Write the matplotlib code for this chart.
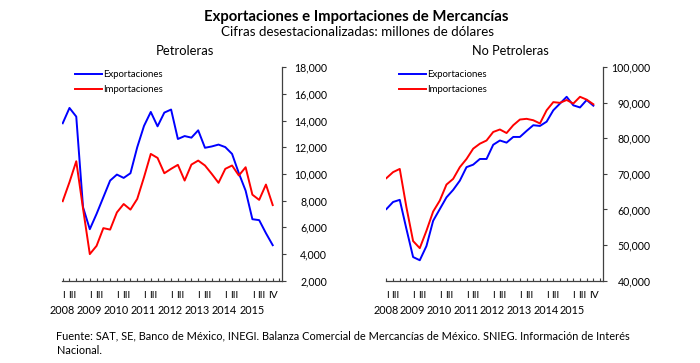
import matplotlib
matplotlib.use("Agg")
import matplotlib.pyplot as plt
from matplotlib.lines import Line2D

plt.rcParams['font.family'] = ['Lato', 'DejaVu Sans']

# ---------------- data (quarterly, 2008 Q1 - 2015 Q4, millions of USD) ----------------
years = ['2008', '2009', '2010', '2011', '2012', '2013', '2014', '2015']
quarter_marks = ['I', 'III']
last_mark = 'IV'

pet_exp = [13800, 14950, 14300, 7500, 5850, 7000, 8250, 9500,
           9950, 9700, 10050, 12000, 13600, 14650, 13570, 14600,
           14830, 12620, 12840, 12720, 13270, 11960, 12060, 12200,
           12010, 11500, 10050, 8740, 6600, 6530, 5550, 4650]
pet_imp = [7950, 9380, 10950, 7400, 3980, 4600, 5930, 5820,
           7110, 7740, 7320, 8120, 9750, 11500, 11200, 10050,
           10380, 10680, 9500, 10700, 11000, 10630, 10000, 9330,
           10380, 10630, 9880, 10500, 8440, 8050, 9200, 7660]
nop_exp = [60100, 62100, 62700, 54500, 46600, 45700, 49700, 56800,
           60100, 63400, 65500, 68100, 71900, 72600, 74200, 74200,
           78200, 79400, 78800, 80400, 80400, 82100, 83700, 83500,
           84700, 87900, 89800, 91700, 89300, 88700, 90800, 89200]
nop_imp = [68800, 70500, 71400, 60600, 51100, 49100, 54000, 59400,
           62500, 67000, 68600, 71900, 74200, 77100, 78500, 79400,
           81800, 82500, 81500, 83700, 85300, 85500, 85100, 84200,
           87900, 90200, 90000, 90800, 89800, 91700, 90900, 89600]

labels = ['Exportaciones', 'Importaciones']
colors = ['#0000FF', '#FF0000']

W, H = 700, 363
fig = plt.figure(figsize=(W / 100, H / 100), dpi=100)
fig.patch.set_facecolor('white')

TOP, BOT = 67.3, 280.5


def add_ax(x0, x1):
    return fig.add_axes([x0 / W, 1 - BOT / H, (x1 - x0) / W, (BOT - TOP) / H])


def style(ax, ylim, yticks, pad, leg_x):
    n = len(pet_exp)
    ax.set_xlim(-0.06, 32.37)
    ax.set_ylim(*ylim)
    for s in ['top', 'left']:
        ax.spines[s].set_visible(False)
    for s in ['bottom', 'right']:
        ax.spines[s].set_color('#404040')
        ax.spines[s].set_linewidth(0.9)
    ax.yaxis.tick_right()
    ax.set_yticks(yticks)
    ax.set_yticklabels([f'{v:,}' for v in yticks])
    ax.tick_params(axis='y', direction='out', length=3, width=0.8, color='#404040',
                   pad=pad, labelsize=7.6)
    for t in ax.get_yticklabels():
        t.set_horizontalalignment('right')
    ax.set_xticks(range(n + 1))
    ax.set_xticklabels([])
    ax.tick_params(axis='x', direction='in', length=2.5, width=0.8, color='#404040')
    tr = ax.get_xaxis_transform()
    y1 = -(296 - BOT) / (BOT - TOP)
    y2 = -(310.5 - BOT) / (BOT - TOP)
    for k, yr in enumerate(years):
        ax.text(4 * k + 0.1, y1, quarter_marks[0], transform=tr, ha='center', va='center', fontsize=7.4)
        ax.text(4 * k + 1.35, y1, quarter_marks[1], transform=tr, ha='center', va='center', fontsize=7.4)
        ax.text(4 * k - 0.1, y2, yr, transform=tr, ha='center', va='center', fontsize=7.8)
    ax.text(31.1, y1, last_mark, transform=tr, ha='center', va='center', fontsize=7.4)
    handles = [Line2D([], [], color=c, lw=1.4) for c in colors]
    ax.legend(handles, labels, loc='upper left', frameon=False, fontsize=6.9,
              bbox_to_anchor=(leg_x / W, 1 - 70 / H), bbox_transform=fig.transFigure,
              borderpad=0, borderaxespad=0, handlelength=2.85, handletextpad=0.12,
              labelspacing=0.62)


x = list(range(len(pet_exp)))

ax1 = add_ax(62.3, 282.0)
ax1.plot(x, pet_exp, color=colors[0], lw=1.4)
ax1.plot(x, pet_imp, color=colors[1], lw=1.4)
style(ax1, (2000, 18000), list(range(2000, 18001, 2000)), 29.5, 75)

ax2 = add_ax(386.0, 602.5)
ax2.plot(x, nop_exp, color=colors[0], lw=1.4)
ax2.plot(x, nop_imp, color=colors[1], lw=1.4)
style(ax2, (40000, 100000), list(range(40000, 100001, 10000)), 31.5, 399)

fig.text(356.5 / W, 1 - 16.5 / H, 'Exportaciones e Importaciones de Mercancías',
         ha='center', va='center', fontsize=10.7, fontweight='bold')
fig.text(357.5 / W, 1 - 32 / H, 'Cifras desestacionalizadas: millones de dólares',
         ha='center', va='center', fontsize=9.6)
fig.text(185 / W, 1 - 51 / H, 'Petroleras', ha='center', va='center', fontsize=9.4)
fig.text(510 / W, 1 - 51 / H, 'No Petroleras', ha='center', va='center', fontsize=9.2)
fig.text(56.5 / W, 1 - 343 / H,
         'Fuente: SAT, SE, Banco de México, INEGI. Balanza Comercial de Mercancías de México. '
         'SNIEG. Información de Interés\nNacional.',
         ha='left', va='center', fontsize=7.9, linespacing=1.35)

fig.savefig('out.png', dpi=100, facecolor='white')
